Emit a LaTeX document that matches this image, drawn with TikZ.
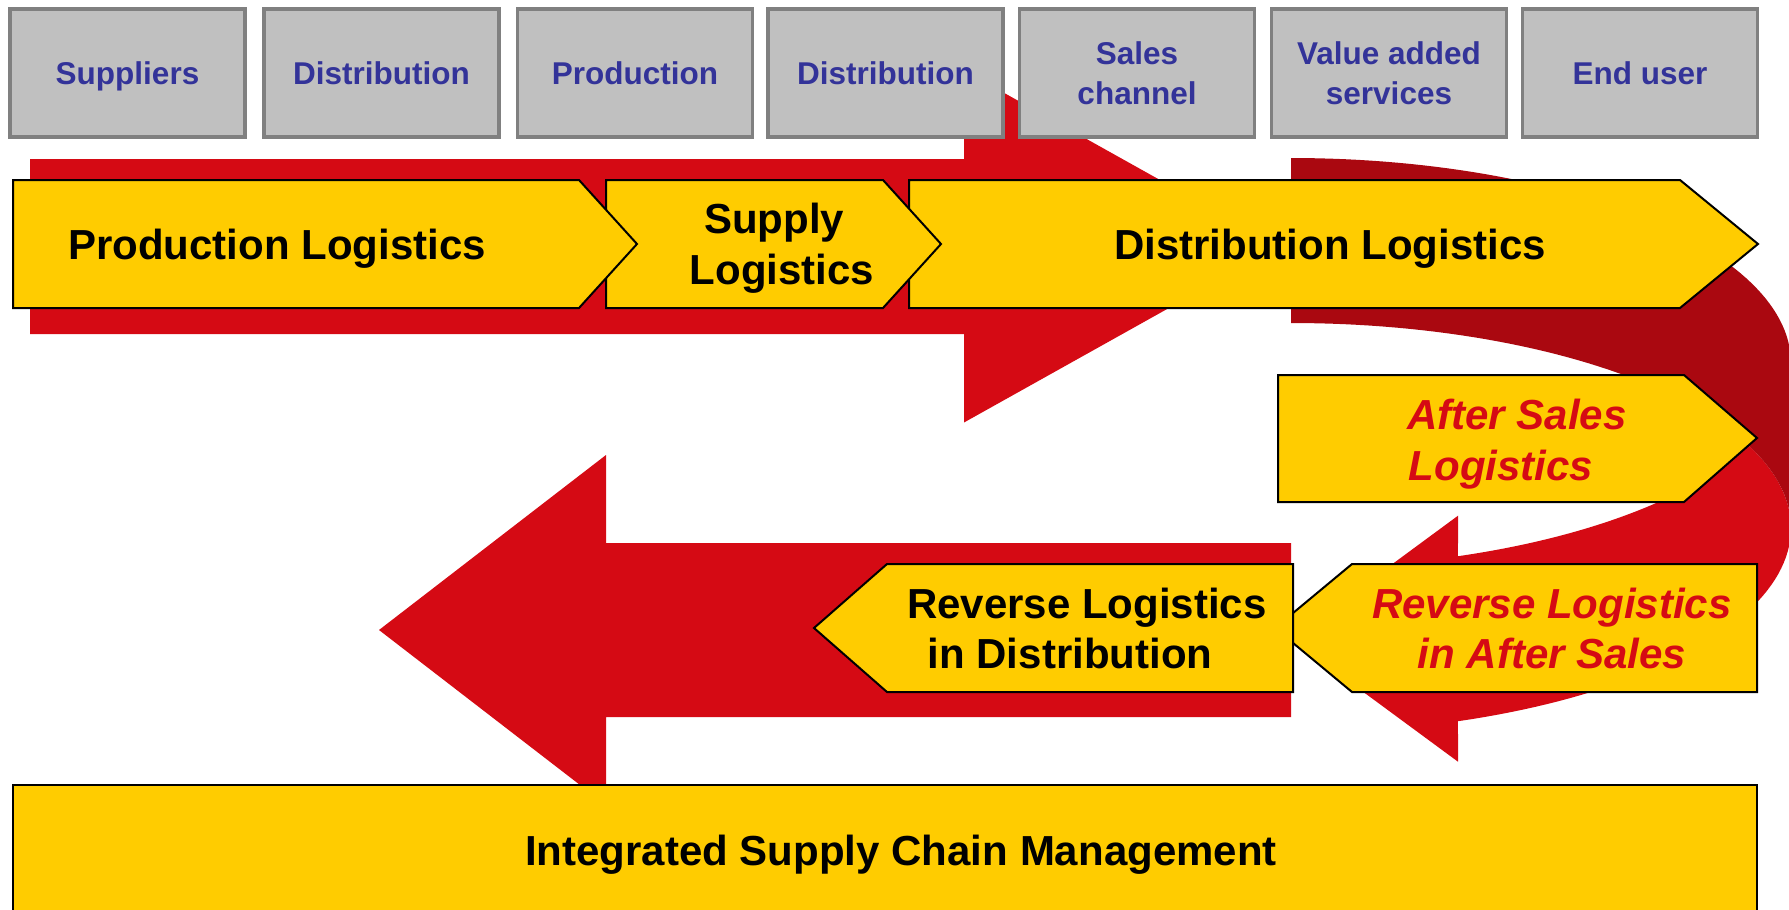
\documentclass[tikz,border=0pt]{standalone}
\usepackage{fontspec}
\setmainfont{Liberation Sans}
\definecolor{arrowred}{RGB}{213,10,20}
\definecolor{arrowdark}{RGB}{170,8,16}
\definecolor{chevyellow}{RGB}{255,204,0}
\definecolor{boxfill}{RGB}{192,192,192}
\definecolor{boxline}{RGB}{128,128,128}
\definecolor{boxtext}{RGB}{51,51,153}

\begin{document}
\begin{tikzpicture}[x=1pt,y=-1pt,
  stagebox/.style={draw=boxline, fill=boxfill, line width=3.5pt,
    minimum width=235pt, minimum height=128pt, inner sep=0pt,
    text=boxtext, align=center, font=\fontsize{31.5}{40}\selectfont\bfseries},
  oneline/.style={text height=22.6pt, text depth=0pt},
  chevron/.style={draw=black, fill=chevyellow, line width=2pt, line join=miter},
  bigline/.style={anchor=base, inner sep=0pt, font=\fontsize{42}{51}\selectfont\bfseries},
  redline/.style={bigline, font=\fontsize{42}{51}\selectfont\bfseries\itshape, text=arrowred},
]
\useasboundingbox (0,0) rectangle (1789,910);
\clip (0,0) rectangle (1789,910);

% forward flow arrow
\fill[arrowred] (30,159) -- (964,159) -- (964,70.5) -- (1279,246.5)
  -- (964,422.5) -- (964,334) -- (30,334) -- cycle;

% U-turn arrow: two equal ellipses, the lower one shifted down by the band width
% front (lower) part
\fill[arrowred] (1291,638.7) -- (1458,515.7)
  -- plot[domain=70.49:23.73, samples=50] ({1291+500*cos(\x)},{363+205*sin(\x)})
  -- plot[domain=-23.73:70.49, samples=60] ({1291+500*cos(\x)},{528+205*sin(\x)})
  -- (1458,761.7) -- cycle;
% back (upper) part, shaded darker
\fill[arrowdark] plot[domain=0:-90, samples=60] ({1291+500*cos(\x)},{528+205*sin(\x)})
  -- (1291,158)
  -- plot[domain=-90:0, samples=60] ({1291+500*cos(\x)},{363+205*sin(\x)})
  -- cycle;

% return flow arrow
\fill[arrowred] (1291,543) -- (606,543) -- (606,455) -- (379,630)
  -- (606,805) -- (606,717) -- (1291,717) -- cycle;

% stages of the chain
\node[stagebox, oneline] (suppliers)  at (127.5,73) {Suppliers};
\node[stagebox, oneline] (distA)      at (381.5,73) {Distribution};
\node[stagebox, oneline] (production) at (635,73)   {Production};
\node[stagebox, oneline] (distB)      at (885.5,73) {Distribution};
\node[stagebox]          (sales)      at (1137,73)  {Sales\\channel};
\node[stagebox]          (vas)        at (1389,73)  {Value added\\services};
\node[stagebox, oneline] (enduser)    at (1640,73)  {End user};

% forward logistics chevrons
\draw[chevron] (909,180) -- (1680,180) -- (1758,244) -- (1680,308) -- (909,308) -- cycle;
\draw[chevron] (606,180) -- (883,180) -- (941,244) -- (883,308) -- (606,308) -- cycle;
\draw[chevron] (13,180) -- (579,180) -- (637,244) -- (579,308) -- (13,308) -- cycle;
\draw[chevron] (1278,375) -- (1684,375) -- (1757,438) -- (1684,502) -- (1278,502) -- cycle;

% reverse logistics chevrons
\draw[chevron] (1757,564) -- (1352,564) -- (1275,628) -- (1352,692) -- (1757,692) -- cycle;
\draw[chevron] (1293,564) -- (887,564) -- (814,628) -- (887,692) -- (1293,692) -- cycle;

% management bar
\draw[chevron] (13,785) rectangle (1757,930);

% labels, one node per printed line, placed on its baseline
\node[bigline] (prodlog)   at (277,259)    {Production Logistics};
\node[bigline] (supply1)   at (774,233.5)  {Supply};
\node[bigline] (supply2)   at (782,284.5)  {Logistics};
\node[bigline] (distlog)   at (1330,259)   {Distribution Logistics};
\node[redline] (after1)    at (1517,429.3) {After Sales};
\node[redline] (after2)    at (1501,480)   {Logistics};
\node[bigline] (revdist1)  at (1087,618.3) {Reverse Logistics};
\node[bigline] (revdist2)  at (1070,668.3) {in Distribution};
\node[redline] (revafter1) at (1552,618.3) {Reverse Logistics};
\node[redline] (revafter2) at (1552,668.3) {in After Sales};
\node[bigline] (iscm)      at (901,865)    {Integrated Supply Chain Management};
\end{tikzpicture}
\end{document}
